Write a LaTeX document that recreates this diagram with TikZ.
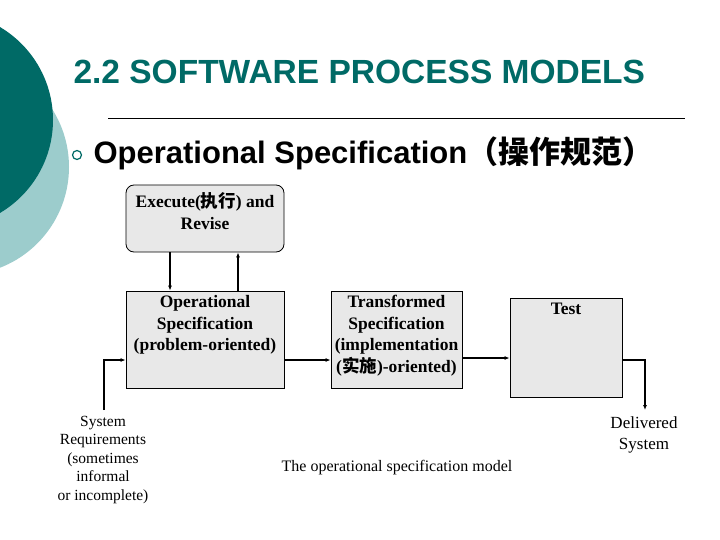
\documentclass[tikz,border=0pt]{standalone}
\usepackage{fontspec}
\setmainfont{Liberation Serif}
\newfontfamily\arialf{Liberation Sans}
\newfontfamily\cjk{Noto Sans CJK SC}
\usetikzlibrary{arrows.meta}
\definecolor{teal1}{HTML}{006A66}
\definecolor{teal2}{HTML}{9CCCCC}
\definecolor{boxg}{HTML}{E8E8E8}
\begin{document}
\begin{tikzpicture}[x=1pt,y=-1pt,
  bx/.style={draw,fill=boxg,line width=0.8pt,inner sep=0pt},
  txt/.style={font=\bfseries\fontsize{17.5}{21.5}\selectfont,align=center},
  arr/.style={line width=1.4pt,-{Latex[length=5pt,width=4pt]}},
  lab/.style={font=\fontsize{15.5}{18.5}\selectfont,align=center}]
\useasboundingbox (0,0) rectangle (720,540);
\fill[teal2] (-39,167) circle (108);
\fill[teal1] (-55,120) circle (108);
\node[anchor=west,text=teal1,font=\arialf\bfseries\fontsize{33.5}{34}\selectfont] (title) at (70,72) {2.2 SOFTWARE PROCESS MODELS};
\draw[line width=1pt] (108,119) -- (685,119);
\node[draw=teal1,line width=1.2pt,circle,minimum size=9pt,inner sep=0pt] (bul) at (77,155) {};
\node[anchor=west,font=\arialf\bfseries\fontsize{31}{31}\selectfont] (head) at (90,153) {Operational Specification{\cjk\bfseries （操作规范）}};
\node[bx,rounded corners=8pt,minimum width=158pt,minimum height=67pt] (ex) at (205,218.5) {};
\node[txt,anchor=north] at (205,189) {Execute({\cjk 执行}) and\\Revise};
\node[bx,minimum width=158pt,minimum height=97pt] (op) at (205,339.5) {};
\node[txt,anchor=north] at (205,292) {Operational\\Specification\\(problem-oriented)};
\node[bx,minimum width=131pt,minimum height=97pt] (tr) at (396.5,339.5) {};
\node[txt,anchor=north] at (396.5,292) {Transformed\\Specification\\(implementation\\({\cjk 实施})-oriented)};
\node[bx,minimum width=112pt,minimum height=99pt] (te) at (566,347.5) {};
\node[txt,anchor=north] at (566,300) {Test};
\node[lab] (sys) at (103,460) {System\\Requirements\\(sometimes\\informal\\or incomplete)};
\node[lab,font=\fontsize{17}{21.5}\selectfont] (del) at (644,435) {Delivered\\System};
\node[lab,font=\fontsize{16}{18}\selectfont] (model) at (397,468) {The operational specification model};
\coordinate (h1) at (0,360);
\coordinate (h2) at (0,358);
\draw[arr] (ex.south -| 170,0) -- (op.north -| 170,0);
\draw[arr] (op.north -| 238,0) -- (ex.south -| 238,0);
\coordinate (s0) at (104,410);
\draw[arr] (s0) |- (op.west |- h1);
\draw[arr] (op.east |- h1) -- (tr.west |- h1);
\draw[arr] (tr.east |- h2) -- (te.west |- h2);
\coordinate (d0) at (645,410);
\draw[arr] (te.east |- h1) -| (d0);
\end{tikzpicture}
\end{document}
